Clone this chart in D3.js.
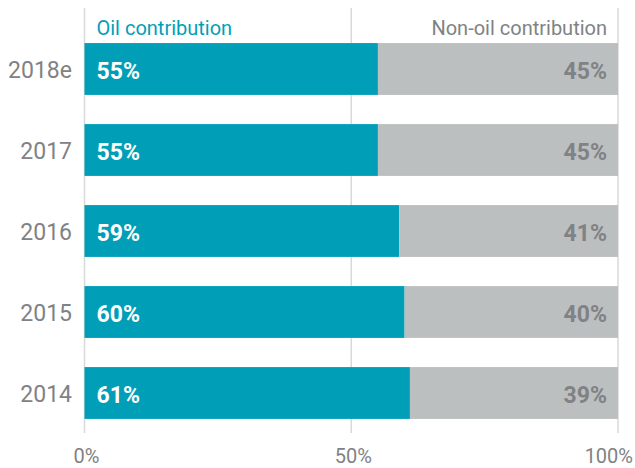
<!DOCTYPE html>
<html>
<head>
<meta charset="utf-8">
<script src="https://cdn.jsdelivr.net/npm/d3@7"></script>
<style>
  body { margin: 0; background: #fff; }
  text { font-family: 'Roboto', 'DejaVu Sans', sans-serif; }
</style>
</head>
<body>
<div class="canvas"></div>
<script>
// chart data
const years = ['2018e', '2017', '2016', '2015', '2014']
const oil = [55, 55, 59, 60, 61]
const nonOil = [45, 45, 41, 40, 39]
const ticks = [0, 50, 100]
const seriesNames = ['Oil contribution', 'Non-oil contribution']

const width = 635
const height = 468

const svg = d3.select('.canvas')
  .append('svg')
  .attr('width', width)
  .attr('height', height)

const x = d3.scaleLinear()
  .domain([0, 100])
  .range([84.5, 618])

const y = d3.scaleBand()
  .domain(years)
  .range([28.5, 433.5])
  .paddingInner(0.36)
  .paddingOuter(0.18)

// gridlines
svg.selectAll('line.grid')
  .data(ticks)
  .enter()
  .append('line')
  .attr('class', 'grid')
  .attr('x1', d => x(d))
  .attr('x2', d => x(d))
  .attr('y1', 8)
  .attr('y2', 433)
  .attr('stroke', '#d9d9d9')
  .attr('stroke-width', 1.5)

const data = years.map((yr, i) => ({ year: yr, oil: oil[i], nonOil: nonOil[i] }))

// oil bars
svg.selectAll('rect.oil')
  .data(data)
  .enter()
  .append('rect')
  .attr('class', 'oil')
  .attr('x', x(0))
  .attr('y', d => y(d.year))
  .attr('width', d => x(d.oil) - x(0))
  .attr('height', y.bandwidth())
  .attr('fill', '#009fb7')

// non-oil bars
svg.selectAll('rect.nonoil')
  .data(data)
  .enter()
  .append('rect')
  .attr('class', 'nonoil')
  .attr('x', d => x(d.oil))
  .attr('y', d => y(d.year))
  .attr('width', d => x(d.oil + d.nonOil) - x(d.oil))
  .attr('height', y.bandwidth())
  .attr('fill', '#bcbfc0')

// value labels
svg.selectAll('text.oilval')
  .data(data)
  .enter()
  .append('text')
  .attr('x', x(0) + 12)
  .attr('y', d => y(d.year) + y.bandwidth() / 2)
  .attr('dy', '0.45em')
  .attr('fill', '#fff')
  .attr('font-size', 23)
  .attr('font-weight', 'bold')
  .text(d => d.oil + '%')

svg.selectAll('text.nonval')
  .data(data)
  .enter()
  .append('text')
  .attr('x', x(100) - 11)
  .attr('y', d => y(d.year) + y.bandwidth() / 2)
  .attr('dy', '0.45em')
  .attr('text-anchor', 'end')
  .attr('fill', '#808285')
  .attr('font-size', 23)
  .attr('font-weight', 'bold')
  .text(d => d.nonOil + '%')

// year labels
svg.selectAll('text.year')
  .data(years)
  .enter()
  .append('text')
  .attr('x', 72)
  .attr('y', d => y(d) + y.bandwidth() / 2)
  .attr('dy', '0.4em')
  .attr('text-anchor', 'end')
  .attr('fill', '#808285')
  .attr('font-size', 23)
  .text(d => d)

// x tick labels
svg.selectAll('text.tick')
  .data(ticks)
  .enter()
  .append('text')
  .attr('x', d => x(d))
  .attr('y', 463)
  .attr('text-anchor', d => d === 100 ? 'end' : 'middle')
  .attr('dx', d => d === 100 ? 15 : 2)
  .attr('fill', '#808285')
  .attr('font-size', 20)
  .text(d => d + '%')

// series headers
svg.append('text')
  .attr('x', x(0) + 12)
  .attr('y', 35)
  .attr('fill', '#009fb7')
  .attr('font-size', 20)
  .text(seriesNames[0])

svg.append('text')
  .attr('x', x(100) - 11)
  .attr('y', 35)
  .attr('text-anchor', 'end')
  .attr('fill', '#808285')
  .attr('font-size', 20)
  .text(seriesNames[1])
</script>
</body>
</html>
